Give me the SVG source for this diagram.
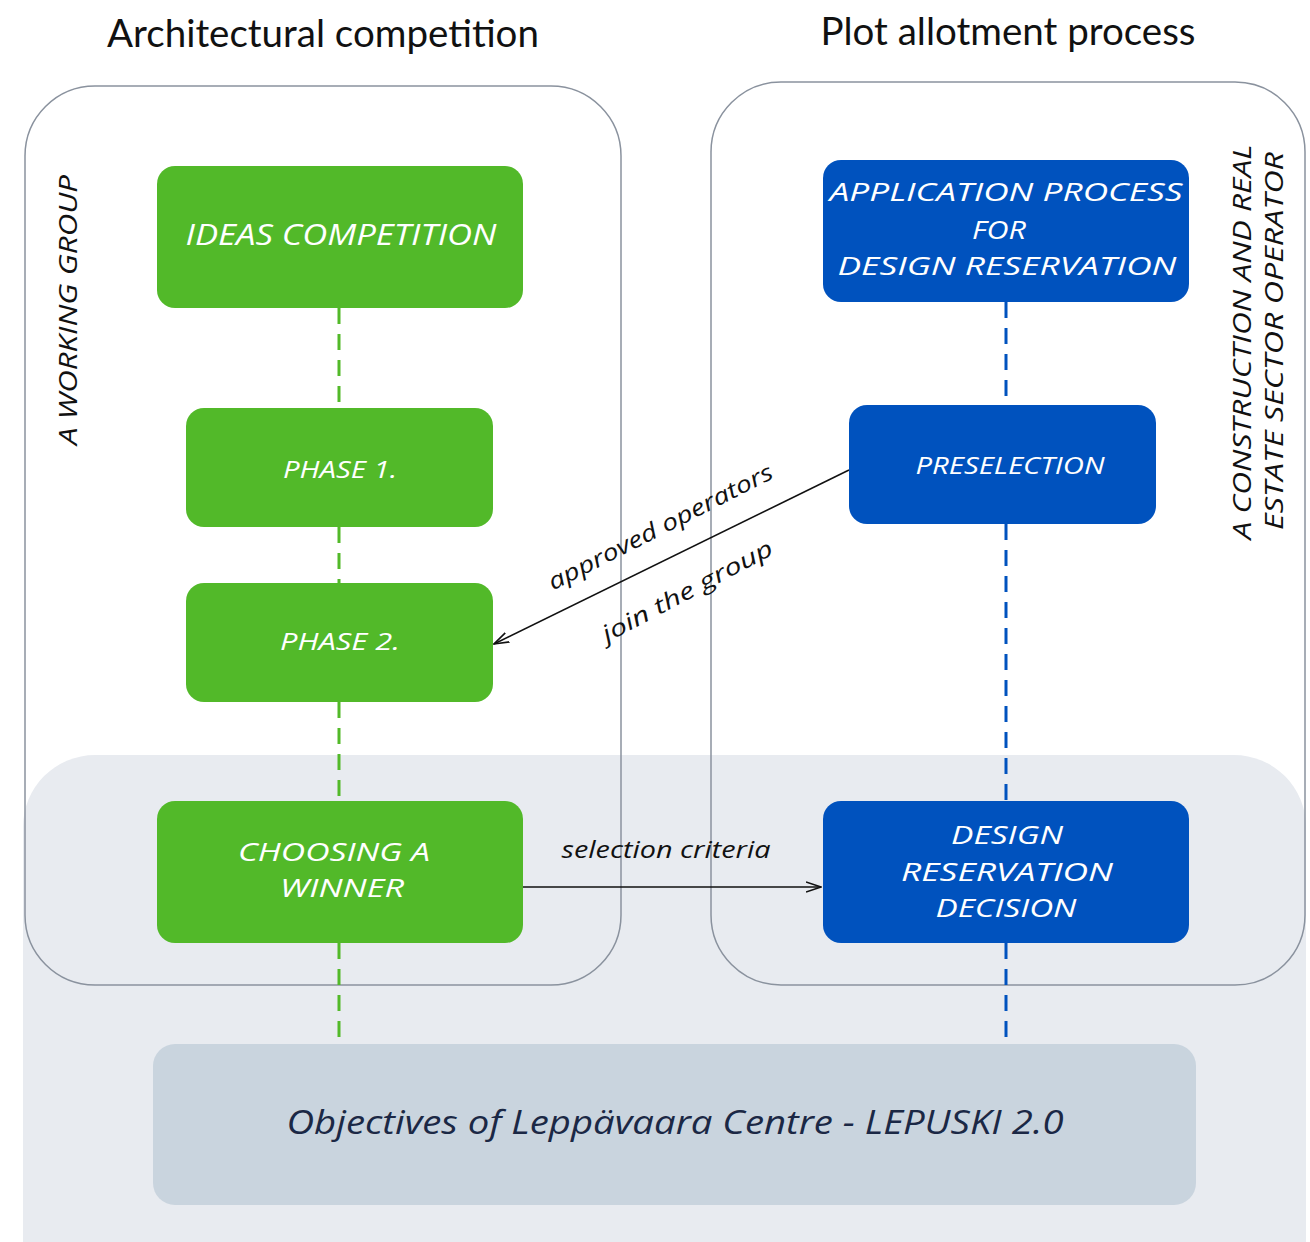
<svg xmlns="http://www.w3.org/2000/svg" width="1310" height="1242" viewBox="0 0 1310 1242">
<style>
.title{font-family:Lato,"Open Sans",sans-serif;font-size:38.5px;fill:#111}
.hand{font-family:"Open Sans","Noto Sans",sans-serif;font-style:italic}
.wt{fill:#fff;text-anchor:middle}
.big{font-size:30px}
.ml{font-size:26px}
.small{font-size:24px}
.lbl{font-size:23px;fill:#111;text-anchor:middle}
.side{font-size:25px;fill:#111;text-anchor:middle}
.green{fill:#52b929}
.blue{fill:#0052be}
.frame{fill:none;stroke:#8a929e;stroke-width:1.5}
.gd{stroke:#52b929;stroke-width:3;stroke-dasharray:16 10;fill:none}
.bd{stroke:#0052be;stroke-width:3;stroke-dasharray:16 10;fill:none}
.conn{stroke:#111;stroke-width:1.6;fill:none}
</style>
<defs>
<marker id="arr" markerWidth="16" markerHeight="12" refX="15" refY="6" orient="auto" markerUnits="userSpaceOnUse">
<path d="M0,1 L15,6 L0,11" fill="none" stroke="#111" stroke-width="1.6"/>
</marker>
</defs>
<rect width="1310" height="1242" fill="#fff"/>
<g id="background">
<rect x="23" y="755" width="1283" height="560" rx="72" fill="#e8ebf0"/>
</g>
<g id="titles">
<text class="title" x="323" y="47" text-anchor="middle">Architectural competition</text>
<text class="title" x="1008" y="45" text-anchor="middle">Plot allotment process</text>
</g>
<g id="frame-left">
<rect class="frame" x="25" y="86" width="596" height="899" rx="70"/>
<text class="hand side" transform="translate(77,310) rotate(-90)" textLength="270" lengthAdjust="spacingAndGlyphs">A WORKING GROUP</text>
</g>
<g id="frame-right">
<rect class="frame" x="711" y="82" width="594" height="903" rx="70"/>
<text class="hand side" transform="translate(1251,342) rotate(-90)" textLength="395" lengthAdjust="spacingAndGlyphs">A CONSTRUCTION AND REAL</text>
<text class="hand side" transform="translate(1283,341) rotate(-90)" textLength="378" lengthAdjust="spacingAndGlyphs">ESTATE SECTOR OPERATOR</text>
</g>
<g id="connectors">
<line class="gd" x1="339" y1="308" x2="339" y2="408"/>
<line class="gd" x1="339" y1="527" x2="339" y2="583"/>
<line class="gd" x1="339" y1="702" x2="339" y2="801"/>
<line class="gd" x1="339" y1="943" x2="339" y2="1040"/>
<line class="bd" x1="1006" y1="302" x2="1006" y2="405"/>
<line class="bd" x1="1006" y1="524" x2="1006" y2="801"/>
<line class="bd" x1="1006" y1="943" x2="1006" y2="1040"/>
<line class="conn" x1="849" y1="470" x2="494" y2="644" marker-end="url(#arr)"/>
<text class="hand lbl" transform="translate(664,534) rotate(-27)" textLength="249" lengthAdjust="spacingAndGlyphs">approved operators</text>
<text class="hand lbl" transform="translate(691,598) rotate(-28)" textLength="190" lengthAdjust="spacingAndGlyphs">join the group</text>
<line class="conn" x1="523" y1="887" x2="821" y2="887" marker-end="url(#arr)"/>
<text class="hand lbl" x="666" y="858" textLength="209" lengthAdjust="spacingAndGlyphs">selection criteria</text>
</g>
<g id="ideas">
<rect class="green" x="157" y="166" width="366" height="142" rx="18"/>
<text class="hand wt big" x="341" y="245" textLength="311" lengthAdjust="spacingAndGlyphs">IDEAS COMPETITION</text>
</g>
<g id="phase1">
<rect class="green" x="186" y="408" width="307" height="119" rx="18"/>
<text class="hand wt small" x="340" y="478" textLength="114" lengthAdjust="spacingAndGlyphs">PHASE 1.</text>
</g>
<g id="phase2">
<rect class="green" x="186" y="583" width="307" height="119" rx="18"/>
<text class="hand wt small" x="340" y="650" textLength="120" lengthAdjust="spacingAndGlyphs">PHASE 2.</text>
</g>
<g id="winner">
<rect class="green" x="157" y="801" width="366" height="142" rx="18"/>
<text class="hand wt ml" x="334" y="861" textLength="192" lengthAdjust="spacingAndGlyphs">CHOOSING A</text>
<text class="hand wt ml" x="342" y="897" textLength="124" lengthAdjust="spacingAndGlyphs">WINNER</text>
</g>
<g id="application">
<rect class="blue" x="823" y="160" width="366" height="142" rx="18"/>
<text class="hand wt ml" x="1006" y="201" textLength="353" lengthAdjust="spacingAndGlyphs">APPLICATION PROCESS</text>
<text class="hand wt ml" x="999" y="239" textLength="54" lengthAdjust="spacingAndGlyphs">FOR</text>
<text class="hand wt ml" x="1007" y="275" textLength="339" lengthAdjust="spacingAndGlyphs">DESIGN RESERVATION</text>
</g>
<g id="preselection">
<rect class="blue" x="849" y="405" width="307" height="119" rx="18"/>
<text class="hand wt small" x="1010" y="474" textLength="189" lengthAdjust="spacingAndGlyphs">PRESELECTION</text>
</g>
<g id="decision">
<rect class="blue" x="823" y="801" width="366" height="142" rx="18"/>
<text class="hand wt ml" x="1007" y="844" textLength="112" lengthAdjust="spacingAndGlyphs">DESIGN</text>
<text class="hand wt ml" x="1007" y="881" textLength="212" lengthAdjust="spacingAndGlyphs">RESERVATION</text>
<text class="hand wt ml" x="1006" y="917" textLength="141" lengthAdjust="spacingAndGlyphs">DECISION</text>
</g>
<g id="objectives">
<rect x="153" y="1044" width="1043" height="161" rx="22" fill="#c9d4de"/>
<text class="hand" x="675" y="1134" text-anchor="middle" font-size="32" fill="#1b2845" textLength="777" lengthAdjust="spacingAndGlyphs">Objectives of Leppävaara Centre - LEPUSKI 2.0</text>
</g>
</svg>
